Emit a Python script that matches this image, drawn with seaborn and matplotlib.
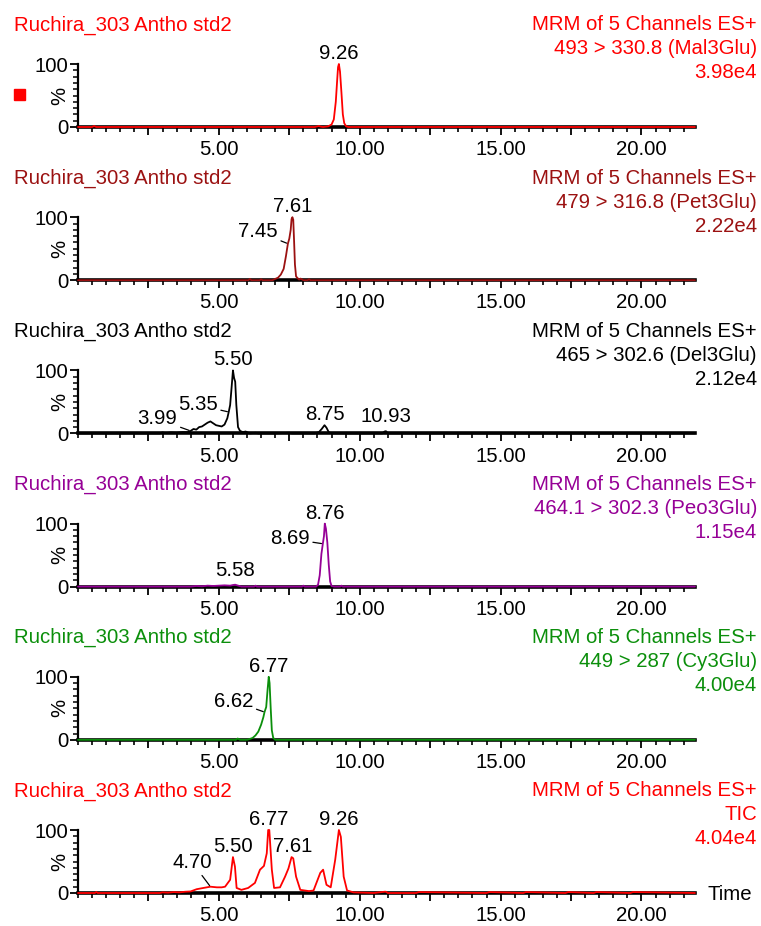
import matplotlib
matplotlib.use('Agg')
import numpy as np
import pandas as pd
import matplotlib.pyplot as plt
from matplotlib.ticker import MultipleLocator
import seaborn as sns

# ---- data (time in min, intensity in %) ----
sample_name = 'Ruchira_303 Antho std2'
header = 'MRM of 5 Channels ES+'
channels = ['493 > 330.8 (Mal3Glu)', '479 > 316.8 (Pet3Glu)', '465 > 302.6 (Del3Glu)',
            '464.1 > 302.3 (Peo3Glu)', '449 > 287 (Cy3Glu)', 'TIC']
scale_vals = ['3.98e4', '2.22e4', '2.12e4', '1.15e4', '4.00e4', '4.04e4']

mal_t = [0.0, 0.5, 0.57, 0.65, 8.4, 8.55, 8.62, 8.7, 8.88, 9.0, 9.08, 9.15, 9.2, 9.23,
         9.26, 9.3, 9.35, 9.4, 9.45, 9.52, 9.6, 21.9]
mal_i = [0, 0, 1.5, 0, 0, 1.5, 0.5, 0, 1, 4, 12, 40, 75, 95, 100, 88, 55, 20, 6, 1, 0, 0]

pet_t = [0.0, 6.05, 6.1, 6.15, 6.45, 6.5, 6.55, 6.9, 7.0, 7.1, 7.2, 7.3, 7.38, 7.45, 7.5,
         7.55, 7.58, 7.61, 7.64, 7.67, 7.7, 7.74, 7.8, 7.85, 7.9, 8.0, 8.15, 8.2, 8.25, 21.9]
pet_i = [0, 0, 2, 0, 0, 1.5, 0, 0, 2, 4, 9, 18, 38, 58, 66, 80, 97, 100, 96, 62, 25, 6, 3,
         1, 2.5, 0, 0, 1.5, 0, 0]

del_t = [0.0, 2.9, 3.0, 3.1, 3.3, 3.5, 3.7, 3.9, 4.0, 4.1, 4.2, 4.3, 4.4, 4.5, 4.6, 4.7,
         4.8, 4.9, 5.0, 5.1, 5.2, 5.3, 5.35, 5.4, 5.45, 5.5, 5.54, 5.58, 5.62, 5.68, 5.75,
         5.85, 5.95, 6.1, 6.3, 6.4, 7.0, 7.5, 7.6, 8.4, 8.55, 8.65, 8.75, 8.82, 8.9, 9.0,
         10.8, 10.88, 10.93, 11.0, 21.9]
del_i = [0, 0, 1.5, 0.5, 1.5, 1, 2, 2, 4, 7, 6, 10, 11, 14, 17, 19, 16, 13, 12, 11, 14, 24,
         34, 45, 72, 100, 88, 82, 45, 10, 4, 2, 3, 0, 1, 0, 0, 1, 0, 0, 2, 7, 13, 9, 2, 0,
         0, 3, 3.5, 0, 0]

peo_t = [0.0, 4.0, 4.2, 4.4, 4.6, 4.8, 5.0, 5.2, 5.4, 5.5, 5.58, 5.65, 5.8, 6.25, 6.3,
         6.35, 7.95, 8.0, 8.05, 8.45, 8.52, 8.58, 8.64, 8.69, 8.73, 8.76, 8.8, 8.85, 8.9,
         8.95, 9.0, 9.1, 9.3, 9.35, 9.4, 21.9]
peo_i = [0, 0, 1, 0.5, 1.5, 1, 1.5, 2, 1.5, 2.5, 3, 2, 0, 0, 1.5, 0, 0, 1.5, 0, 0, 3, 18,
         52, 68, 80, 100, 92, 70, 35, 8, 1, 0, 0, 1.5, 0, 0]

cy_t = [0.0, 5.6, 5.67, 5.75, 6.0, 6.08, 6.2, 6.3, 6.4, 6.5, 6.58, 6.62, 6.68, 6.73, 6.77,
        6.8, 6.84, 6.88, 6.93, 7.0, 21.9]
cy_i = [0, 0, 2, 0, 0, 1, 3, 7, 13, 24, 36, 44, 52, 80, 100, 90, 50, 15, 3, 0, 0]

tic_t = [0.0, 0.6, 0.65, 0.7, 2.9, 3.0, 3.2, 3.4, 3.6, 3.8, 4.0, 4.21, 4.45, 4.7, 4.93,
         5.1, 5.22, 5.4, 5.5, 5.57, 5.63, 5.8, 6.04, 6.28, 6.46, 6.6, 6.7, 6.75, 6.79,
         6.88, 6.96, 7.17, 7.35, 7.47, 7.58, 7.64, 7.74, 7.89, 8.2, 8.36, 8.6, 8.7, 8.82,
         8.97, 9.13, 9.26, 9.33, 9.43, 9.55, 9.78, 10.5, 10.88, 10.93, 11.0, 12.0, 12.1,
         14.5, 14.6, 15.8, 15.9, 17.3, 17.4, 18.3, 18.4, 19.6, 19.7, 21.9]
tic_i = [0, 0, 1.5, 0, 0, 1, 0.5, 1.5, 1, 2, 2.5, 6, 8, 10, 9, 9, 10, 21, 57, 42, 8, 5, 8,
         16, 37, 43, 63, 100, 100, 37, 8, 9, 26, 39, 57, 55, 26, 5, 3, 4, 32, 37, 13, 9, 53,
         100, 89, 26, 4, 1, 0, 2, 2, 0, 0, 1.5, 0, 1.5, 0, 1.5, 0, 1.5, 0, 1.5, 0, 1.5, 0]

traces = [(mal_t, mal_i), (pet_t, pet_i), (del_t, del_i),
          (peo_t, peo_i), (cy_t, cy_i), (tic_t, tic_i)]

# peak labels: (text, time, intensity)
peak_labels = [
    [('9.26', 9.26, 100)],
    [('7.61', 7.61, 100), ('7.45', 7.45, 58)],
    [('5.50', 5.50, 100), ('5.35', 5.35, 34), ('3.99', 3.99, 4), ('8.75', 8.75, 13),
     ('10.93', 10.93, 3.5)],
    [('8.76', 8.76, 100), ('8.69', 8.69, 68), ('5.58', 5.58, 3)],
    [('6.77', 6.77, 100), ('6.62', 6.62, 44)],
    [('6.77', 6.77, 100), ('9.26', 9.26, 100), ('5.50', 5.50, 57), ('7.61', 7.61, 57),
     ('4.70', 4.70, 10)],
]

# ---- layout / style ----
colors = ['#ff0000', '#9b1111', '#000000', '#960096', '#0b8f0b', '#ff0000']
# text-centre offsets (pixels) for labels with a leader line
leader_offsets = {(1, '7.45'): (-30, 12), (2, '5.35'): (-31, 7), (2, '3.99'): (-33, 12),
                  (3, '8.69'): (-33, 5), (4, '6.62'): (-31, 11), (5, '4.70'): (-18, 24)}
# vertical lift (pixels) for plain labels sitting above a peak
label_lift = {(2, '10.93'): 4, (3, '5.58'): 4, (2, '8.75'): 0}

W, H = 761, 926
FS = 14.7
sns.set_theme(style='white')
plt.rcParams['font.family'] = ['Liberation Sans', 'DejaVu Sans']

fig = plt.figure(figsize=(W / 100, H / 100), dpi=100)
fig.patch.set_facecolor('white')

ax_left, ax_w, ax_h = 78, 617, 63
x_major = [2.5, 5.0, 7.5, 10.0, 12.5, 15.0, 17.5, 20.0]

for k, (t, inten) in enumerate(traces):
    top = 64 + 153.2 * k
    ax = fig.add_axes([ax_left / W, 1 - (top + ax_h) / H, ax_w / W, ax_h / H])
    df = pd.DataFrame({'time': t, 'pct': inten})
    sns.lineplot(data=df, x='time', y='pct', ax=ax, color=colors[k], linewidth=1.3,
                 estimator=None, sort=False, clip_on=False, zorder=3)
    ax.set_xlim(0, 21.9)
    ax.set_ylim(0, 100)
    ax.set_facecolor('none')
    ax.set_xlabel('')
    ax.set_ylabel('')
    for s in ['top', 'right']:
        ax.spines[s].set_visible(False)
    ax.spines['bottom'].set_linewidth(2.6)
    ax.spines['bottom'].set_color('black')
    ax.spines['left'].set_linewidth(1.6)
    ax.spines['left'].set_color('black')
    ax.spines['left'].set_bounds(0, 100)

    ax.set_xticks(x_major)
    ax.set_xticklabels([f'{v:.2f}' if v % 5 == 0 else '' for v in x_major])
    ax.xaxis.set_minor_locator(MultipleLocator(0.5))
    ax.set_yticks([0, 100])
    ax.set_yticklabels(['0', '100'])
    ax.yaxis.set_minor_locator(MultipleLocator(10))
    ax.tick_params(axis='x', which='major', bottom=True, direction='out', length=6,
                   width=1.3, color='black', labelsize=FS, pad=3.5, labelcolor='black')
    ax.tick_params(axis='x', which='minor', bottom=True, direction='out', length=3.8,
                   width=1.2, color='black')
    ax.tick_params(axis='y', which='major', left=True, direction='out', length=6,
                   width=1.3, color='black', labelsize=FS, pad=1, labelcolor='black')
    ax.tick_params(axis='y', which='minor', left=True, direction='out', length=3.5,
                   width=1.1, color='black')
    ax.grid(False)

    ax.text(-18 / ax_w, 0.5, '%', transform=ax.transAxes, rotation=90,
            ha='center', va='center', fontsize=FS, color='black')

    for txt, lx, ly in peak_labels[k]:
        key = (k, txt)
        if key in leader_offsets:
            dx, dy = leader_offsets[key]
            ax.annotate(txt, xy=(lx, ly), xytext=(dx, dy), textcoords='offset pixels',
                        ha='center', va='center', fontsize=FS, color='black',
                        annotation_clip=False,
                        arrowprops=dict(arrowstyle='-', color='black', lw=0.9,
                                        shrinkA=0, shrinkB=1))
        else:
            ax.annotate(txt, xy=(lx, ly), xytext=(0, 1 + label_lift.get(key, 0)),
                        textcoords='offset pixels', ha='center', va='bottom',
                        fontsize=FS, color='black', annotation_clip=False)

    # header texts
    fig.text(14 / W, 1 - (top - 39) / H, sample_name, ha='left', va='center',
             fontsize=FS, color=colors[k])
    right_lines = [header, channels[k], scale_vals[k]]
    for j, line in enumerate(right_lines):
        fig.text(757 / W, 1 - (top - 39 + 24 * j) / H, line, ha='right', va='center',
                 fontsize=FS, color=colors[k])

# small marker square next to the first trace
fig.add_artist(plt.Rectangle((14 / W, 1 - 100 / H), 11 / W, 11 / H,
                             transform=fig.transFigure, color='#ff0000'))
fig.text(707 / W, 1 - 895 / H, 'Time', ha='left', va='center', fontsize=FS, color='black')

fig.savefig('out.png', dpi=100)
